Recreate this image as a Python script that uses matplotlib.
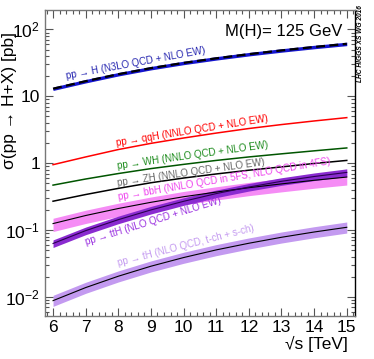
import matplotlib
matplotlib.use('Agg')
import matplotlib.pyplot as plt
import numpy as np
from matplotlib.ticker import LogLocator, FixedLocator, FuncFormatter, MultipleLocator

plt.rcParams['font.family'] = ['Liberation Sans', 'DejaVu Sans']
plt.rcParams['mathtext.fontset'] = 'custom'
plt.rcParams['mathtext.rm'] = 'Liberation Sans'
plt.rcParams['mathtext.it'] = 'Liberation Sans:italic'

# centre-of-mass energy [TeV]
sqrts = [6, 7, 8, 9, 10, 11, 12, 13, 14, 15]

# cross sections [pb], M(H)=125 GeV
ggH = [13.0, 16.85, 21.42, 26.4, 31.6, 37.0, 42.7, 48.58, 54.67, 60.9]
qqH = [0.95, 1.24, 1.60, 1.98, 2.38, 2.82, 3.30, 3.78, 4.28, 4.80]
WH = [0.47, 0.58, 0.70, 0.83, 0.96, 1.10, 1.24, 1.38, 1.53, 1.69]
ZH = [0.27, 0.34, 0.42, 0.51, 0.60, 0.69, 0.785, 0.88, 0.99, 1.10]
bbH = [0.125, 0.165, 0.21, 0.26, 0.315, 0.37, 0.43, 0.49, 0.555, 0.62]
ttH = [0.063, 0.098, 0.143, 0.20, 0.269, 0.351, 0.44, 0.536, 0.632, 0.728]
tH = [0.0088, 0.0138, 0.0204, 0.0288, 0.0388, 0.0505, 0.0635, 0.078, 0.0935, 0.110]

# relative band widths (up, down)
ggH_unc = (0.06, 0.06)
bbH_unc = (0.20, 0.24)
ttH_unc = (0.13, 0.13)
tH_unc = (0.20, 0.18)

labels = {
    'ggH': 'pp → H (N3LO QCD + NLO EW)',
    'qqH': 'pp → qqH (NNLO QCD + NLO EW)',
    'WH': 'pp → WH (NNLO QCD + NLO EW)',
    'ZH': 'pp → ZH (NNLO QCD + NLO EW)',
    'bbH': 'pp → bbH (NNLO QCD in 5FS, NLO QCD in 4FS)',
    'ttH': 'pp → ttH (NLO QCD + NLO EW)',
    'tH': 'pp → tH (NLO QCD, t-ch + s-ch)',
}

x = np.array(sqrts)
fig = plt.figure(figsize=(3.74, 3.59), dpi=100)
ax = fig.add_axes([0.120, 0.120, 0.829, 0.852])

def band(vals, unc, color):
    v = np.array(vals)
    ax.fill_between(x, v * (1 - unc[1]), v * (1 + unc[0]), color=color, lw=0)

band(bbH, bbH_unc, '#f58cf5')
band(ttH, ttH_unc, '#8a2bd0')
band(tH, tH_unc, '#c39af0')
band(ggH, ggH_unc, '#1515d0')

ax.plot(x, ggH, color='black', lw=1.6, dashes=(4, 2))
ax.plot(x, qqH, color='#ff0000', lw=1.1)
ax.plot(x, WH, color='#005500', lw=1.1)
ax.plot(x, ZH, color='black', lw=1.1)
ax.plot(x, bbH, color='black', lw=0.8)
ax.plot(x, ttH, color='#2a0050', lw=0.8)
ax.plot(x, tH, color='black', lw=0.8)

ax.set_yscale('log')
ax.set_xlim(5.75, 15.25)
ax.set_ylim(0.0052, 195)

ax.xaxis.set_major_locator(MultipleLocator(1))
ax.xaxis.set_minor_locator(MultipleLocator(0.2))
ax.yaxis.set_major_locator(FixedLocator([0.01, 0.1, 1, 10, 100]))
ax.yaxis.set_minor_locator(LogLocator(base=10, subs=np.arange(2, 10)))
ylabs = {0.01: '$10^{-2}$', 0.1: '$10^{-1}$', 1: '1', 10: '10', 100: '$10^{2}$'}
ax.yaxis.set_major_formatter(FuncFormatter(lambda v, p: ylabs.get(round(v, 3), '')))
ax.yaxis.set_minor_formatter(FuncFormatter(lambda v, p: ''))

ax.tick_params(which='both', direction='in', top=True, right=True, labelsize=12.5,
               color='#555555', width=0.8)
ax.tick_params(which='major', length=6)
ax.tick_params(which='minor', length=3)
ax.tick_params(axis='x', pad=3)
for s in ['left', 'bottom', 'top']:
    ax.spines[s].set_color('#777777')
ax.spines['right'].set_color('black')
for s in ax.spines.values():
    s.set_linewidth(1.0)

# label anchors given as picture pixels (left end, baseline)
H_PX = 359.0
def label(key, px, py, rot, color):
    xd, yd = ax.transData.inverted().transform((px, H_PX - py))
    ax.text(xd, yd, labels[key], color=color, rotation=rot, fontsize=7.0,
            rotation_mode='anchor', ha='left', va='baseline')

label('ggH', 67, 79, 10.5, '#2525b0')
label('qqH', 117, 146, 9.2, '#ff0000')
label('WH', 118, 169, 8.0, '#1a8a1a')
label('ZH', 118, 186, 8.1, '#666666')
label('bbH', 119, 200, 9.6, '#ee44ee')
label('ttH', 86, 245, 17.3, '#9a30e0')
label('tH', 118, 266, 14.5, '#c49af0')

ax.text(0.96, 0.955, 'M(H)= 125 GeV', transform=ax.transAxes, ha='right', va='top',
        fontsize=12)
fig.text(0.963, 0.985, 'LHC HIGGS XS WG 2016', rotation=90, ha='center', va='top',
         fontsize=4.8, fontweight='bold', fontstyle='italic')
fig.text(0.026, 0.91, 'σ(pp → H+X) [pb]', rotation=90, ha='center', va='top', fontsize=12.5)
fig.text(0.93, 0.02, '√s [TeV]', ha='right', va='bottom', fontsize=12.5)

fig.savefig('out.png', dpi=100, facecolor='white')
